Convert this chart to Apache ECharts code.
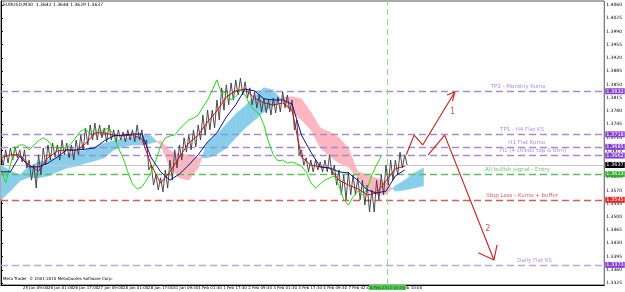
<!DOCTYPE html>
<html><head><meta charset="utf-8">
<script src="https://cdn.jsdelivr.net/npm/echarts@6/dist/echarts.min.js"></script>
<style>html,body{margin:0;padding:0;background:#fff}#c{width:625px;height:292px}</style>
</head><body><div id="c"></div>
<script>
// ---- data (M30 bars, x = bar index) ----
const priceStep = 6;   // bars per price / chikou sample
const lineStep = 12;   // bars per tenkan / kijun / kumo sample
const priceHigh = [1.3664,1.3677,1.3682,1.3685,1.3677,1.3677,1.3650,1.3637,1.3664,1.3682,1.3690,1.3695,1.3690,1.3703,1.3695,1.3690,1.3703,1.3716,1.3735,1.3743,1.3748,1.3743,1.3735,1.3743,1.3730,1.3730,1.3724,1.3730,1.3730,1.3743,1.3730,1.3703,1.3637,1.3611,1.3603,1.3624,1.3650,1.3677,1.3690,1.3709,1.3716,1.3730,1.3743,1.3769,1.3782,1.3782,1.3809,1.3841,1.3849,1.3854,1.3862,1.3867,1.3857,1.3841,1.3830,1.3822,1.3814,1.3809,1.3814,1.3817,1.3830,1.3822,1.3809,1.3756,1.3677,1.3656,1.3650,1.3650,1.3645,1.3650,1.3664,1.3637,1.3624,1.3611,1.3619,1.3611,1.3603,1.3597,1.3584,1.3571,1.3597,1.3611,1.3637,1.3650,1.3650,1.3671,1.3664];
const priceLow = [1.3637,1.3642,1.3650,1.3656,1.3645,1.3629,1.3597,1.3576,1.3611,1.3637,1.3650,1.3658,1.3650,1.3664,1.3656,1.3650,1.3664,1.3677,1.3690,1.3703,1.3703,1.3709,1.3698,1.3703,1.3698,1.3703,1.3698,1.3703,1.3698,1.3703,1.3690,1.3624,1.3584,1.3571,1.3566,1.3576,1.3597,1.3629,1.3650,1.3671,1.3677,1.3685,1.3703,1.3716,1.3730,1.3735,1.3756,1.3782,1.3796,1.3809,1.3822,1.3822,1.3814,1.3796,1.3788,1.3777,1.3775,1.3769,1.3775,1.3777,1.3788,1.3777,1.3730,1.3664,1.3637,1.3619,1.3619,1.3624,1.3619,1.3619,1.3611,1.3584,1.3558,1.3545,1.3558,1.3558,1.3545,1.3531,1.3513,1.3513,1.3545,1.3558,1.3584,1.3597,1.3611,1.3629,1.3637];
const chikou = [1.3624,1.3590,1.3637,1.3682,1.3690,1.3690,1.3677,1.3690,1.3701,1.3709,1.3701,1.3685,1.3682,1.3682,1.3682,1.3695,1.3711,1.3727,1.3732,1.3719,1.3730,1.3724,1.3730,1.3735,1.3716,1.3682,1.3656,1.3619,1.3587,1.3574,1.3579,1.3597,1.3619,1.3650,1.3687,1.3709,1.3714,1.3716,1.3732,1.3745,1.3756,1.3761,1.3769,1.3790,1.3809,1.3835,1.3862,1.3825,1.3830,1.3809,1.3817,1.3835,1.3822,1.3796,1.3782,1.3772,1.3743,1.3698,1.3664,1.3648,1.3650,1.3642,1.3645,1.3640,1.3634,1.3619,1.3590,1.3576,1.3587,1.3597,1.3603,1.3608,1.3582,1.3545,1.3531,1.3553,1.3568,1.3558,1.3574,1.3611,1.3637,1.3661];
const tenkan = [1.3656,1.3664,1.3664,1.3637,1.3621,1.3656,1.3674,1.3677,1.3674,1.3693,1.3722,1.3722,1.3716,1.3714,1.3716,1.3706,1.3637,1.3589,1.3619,1.3658,1.3695,1.3716,1.3751,1.3780,1.3817,1.3833,1.3838,1.3814,1.3801,1.3796,1.3801,1.3782,1.3658,1.3637,1.3632,1.3629,1.3597,1.3584,1.3574,1.3558,1.3563,1.3595,1.3627,1.3634];
const kijun = [1.3619,1.3619,1.3661,1.3632,1.3632,1.3642,1.3658,1.3677,1.3677,1.3679,1.3682,1.3701,1.3714,1.3716,1.3719,1.3719,1.3656,1.3619,1.3597,1.3613,1.3637,1.3664,1.3698,1.3722,1.3764,1.3796,1.3838,1.3833,1.3812,1.3809,1.3809,1.3798,1.3716,1.3671,1.3632,1.3629,1.3619,1.3616,1.3597,1.3571,1.3563,1.3568,1.3608,1.3624];
const spanA = [1.3637,1.3621,1.3611,1.3634,1.3645,1.3650,1.3658,1.3666,1.3671,1.3677,1.3685,1.3695,1.3701,1.3706,1.3711,1.3716,1.3714,1.3690,1.3629,1.3603,1.3597,1.3629,1.3698,1.3719,1.3745,1.3772,1.3793,1.3819,1.3841,1.3835,1.3804,1.3777,1.3756,1.3730,1.3682,1.3661,1.3642,1.3632,1.3603,1.3571,1.3558,1.3560,1.3582,1.3597,1.3616,1.3629];
const spanB = [1.3545,1.3568,1.3595,1.3605,1.3603,1.3608,1.3619,1.3629,1.3634,1.3642,1.3648,1.3656,1.3677,1.3685,1.3690,1.3690,1.3695,1.3701,1.3674,1.3666,1.3664,1.3656,1.3656,1.3666,1.3682,1.3709,1.3735,1.3756,1.3777,1.3793,1.3817,1.3817,1.3812,1.3777,1.3735,1.3724,1.3709,1.3682,1.3619,1.3611,1.3603,1.3590,1.3568,1.3571,1.3576,1.3582];
const timeTickBars = [0,28,60,92,124,156,188,220,252,284,316,348,380,412,444,476,508];
const timeTickLabels = ['24 Jan 2011','25 Jan 09:00','26 Jan 01:00','26 Jan 17:00','27 Jan 09:00','28 Jan 01:00','28 Jan 17:00','31 Jan 09:30','1 Feb 01:30','1 Feb 17:30','2 Feb 09:30','3 Feb 01:30','3 Feb 17:30','4 Feb 09:30','7 Feb 02:00','7 Feb 18:00','8 Feb 10:00'];
const priceTicks = [1.3325,1.3360,1.3395,1.3430,1.3465,1.3500,1.3535,1.3570,1.3605,1.3640,1.3675,1.3710,1.3745,1.3780,1.3815,1.3850,1.3885,1.3920,1.3955,1.3990,1.4025,1.4060];
const levelNames = ['TP2 - Monthly Kumo','TP1 - H4 Flat KS','H1 Flat Kumo','H1 (4 chikou top & btm)','All bullish signal - Entry','Stop Loss - Kumo + buffer','Daily Flat KS'];
const levelValues = [1.3832,1.3718,1.3685,1.3662,1.3613,1.3545,1.3373];
const levelTextBars = [661,666,672,680,660,666,682];
const bidPrice = 1.3637;
const vLineBar = 494;
const vLineLabel = '8 Feb 2011 03:00';
const arrow1 = [[518,1.3664],[528,1.3716],[539,1.3690],[580,1.3830]];
const arrow1Head = [[570,1.3822],[580,1.3830],[577,1.3806]];
const arrow2 = [[546,1.3664],[567,1.3716],[630,1.3386]];
const arrow2Head = [[610,1.3405],[630,1.3386],[634,1.3426]];
const arrowNumbers = [['1',577,1.3778],['2',622,1.3468]];
const titleText = 'EURUSD,M30  1.3642 1.3644 1.3629 1.3637';
const copyrightText = 'Meta Trader  \u00a9 2001-2010 MetaQuotes Software Corp.';

// ---- styles ----
const levelStyle = [
  {c:'#a58bd0', box:'#8a3fd0', t:'#9a6fd0'},
  {c:'#a58bd0', box:'#8a3fd0', t:'#9a6fd0'},
  {c:'#a58bd0', box:'#8a3fd0', t:'#9a6fd0'},
  {c:'#a58bd0', box:'#8a3fd0', t:'#9a6fd0'},
  {c:'#5cc05c', box:'#2fb02f', t:'#44b844'},
  {c:'#d06060', box:'#e02828', t:'#d03838'},
  {c:'#b9a8dc', box:'#8a3fd0', t:'#9a6fd0'}
];
const BLUE = '#87ceeb', PINK = '#ffb6c1';

const chart = echarts.init(document.getElementById('c'), null, {renderer:'canvas'});

const priceZig = [];
for (let k = 0; k < Math.min(priceHigh.length, priceLow.length); k++) {
  priceZig.push([k*priceStep, priceHigh[k]]);
  priceZig.push([k*priceStep + priceStep/2, priceLow[k]]);
}
const chikouData = chikou.map((v,k)=>[k*priceStep, v]);
const tenkanData = tenkan.map((v,k)=>[k*lineStep, v]);
const kijunData = kijun.map((v,k)=>[k*lineStep, v]);
const cloudData = spanA.map((a,k)=>[k*lineStep, a, spanB[k]]);

function cloudRender(params, api) {
  const i = params.dataIndex;
  if (i >= cloudData.length - 1) return null;
  const [x0,a0,b0] = cloudData[i];
  const [x1,a1,b1] = cloudData[i+1];
  const P = (x,y)=>api.coord([x,y]);
  const poly = (pts,col)=>({type:'polygon', shape:{points:pts}, style:{fill:col, stroke:col, lineWidth:0.6}});
  const d0 = a0-b0, d1 = a1-b1;
  const ch = [];
  if (d0*d1 < 0) {
    const t = d0/(d0-d1);
    const xm = x0 + t*(x1-x0), ym = a0 + t*(a1-a0);
    ch.push(poly([P(x0,a0),P(xm,ym),P(x0,b0)], d0>0?BLUE:PINK));
    ch.push(poly([P(xm,ym),P(x1,a1),P(x1,b1)], d1>0?BLUE:PINK));
  } else {
    ch.push(poly([P(x0,a0),P(x1,a1),P(x1,b1),P(x0,b0)], (d0+d1)>0?BLUE:PINK));
  }
  return {type:'group', children: ch};
}

const boxLabel = (txt, bg, fg) => ({show:true, position:'end', distance:1, formatter: txt, color:fg||'#fff',
    backgroundColor:bg, fontSize:5, padding:[1,1,0,1], fontFamily:'DejaVu Sans'});
const levelMarks = levelValues.map((v,i)=>({
  yAxis: v,
  lineStyle:{color:levelStyle[i].c, type:[7,4], width:1.3},
  label: boxLabel(v.toFixed(4), levelStyle[i].box)
}));
levelMarks.push({
  yAxis: bidPrice,
  lineStyle:{color:'#c8c8c8', type:'solid', width:1},
  label: boxLabel(bidPrice.toFixed(4), '#000')
});
levelMarks.push({
  xAxis: vLineBar,
  lineStyle:{color:'#90d890', type:[6,4], width:1},
  label:{show:true, position:'start', distance:0, formatter: vLineLabel, color:'#1a5a1a',
    backgroundColor:'#4cd04c', fontSize:4, padding:[1,1,0,1], fontFamily:'DejaVu Sans'}
});

const levelTexts = levelNames.map((n,i)=>({
  value:[levelTextBars[i], levelValues[i]],
  label:{show:true, formatter:n, position:'top', distance:1, color:levelStyle[i].t, fontSize:5.5, fontFamily:'DejaVu Sans'}
}));

const redLine = {color:'#cc2a2a', width:1.2};
const opt = {
  animation:false,
  grid:{left:1, right:15, top:1, bottom:7, show:true, borderColor:'#555', borderWidth:1, backgroundColor:'#fff'},
  xAxis:{type:'value', min:0, max:771,
    axisLine:{show:true, lineStyle:{color:'#000', width:1}}, splitLine:{show:false},
    axisTick:{show:true, length:1, customValues: timeTickBars, lineStyle:{color:'#000'}},
    axisLabel:{show:true, customValues: timeTickBars, align:'left', margin:1, fontSize:4, color:'#000', fontFamily:'DejaVu Sans',
      formatter:(v)=>{const i = timeTickBars.indexOf(Math.round(v)); return i>=0 ? timeTickLabels[i] : '';}}},
  yAxis:{type:'value', position:'right', min:1.33198, max:1.40706,
    axisLine:{show:true, lineStyle:{color:'#000', width:1}}, splitLine:{show:false},
    axisTick:{show:true, length:2, inside:false, customValues: priceTicks, lineStyle:{color:'#000'}},
    axisLabel:{show:true, customValues: priceTicks, margin:2, fontSize:4.5, color:'#000', fontFamily:'DejaVu Sans',
      formatter:(v)=>v.toFixed(4)}},
  graphic:[
    {type:'text', left:3, top:2, style:{text:titleText, fontSize:4.5, fill:'#000', fontFamily:'DejaVu Sans'}},
    {type:'text', left:3, top:277, style:{text:copyrightText, fontSize:4, fill:'#000', fontFamily:'DejaVu Sans'}}
  ],
  series:[
    {type:'custom', renderItem:cloudRender, data:cloudData, encode:{x:0, y:[1,2]}, clip:true, silent:true, z:1},
    {type:'line', data:priceZig, symbol:'none', lineStyle:{color:'#3a3a3a', width:0.9}, z:3,
      markLine:{silent:true, symbol:['none','none'], animation:false, precision:4, data:levelMarks, z:2}},
    {type:'line', data:chikouData, symbol:'none', lineStyle:{color:'#22dd11', width:1}, z:4},
    {type:'line', data:tenkanData, symbol:'none', lineStyle:{color:'#c81010', width:1}, z:5},
    {type:'line', data:kijunData, symbol:'none', lineStyle:{color:'#10108c', width:1}, z:5},
    {type:'line', data:arrow1, symbol:'none', lineStyle:redLine, z:6},
    {type:'line', data:arrow1Head, symbol:'none', lineStyle:redLine, z:6},
    {type:'line', data:arrow2, symbol:'none', lineStyle:redLine, z:6},
    {type:'line', data:arrow2Head, symbol:'none', lineStyle:redLine, z:6},
    {type:'scatter', data:levelTexts, symbolSize:1, itemStyle:{color:'rgba(0,0,0,0)'}, z:7},
    {type:'scatter', data:arrowNumbers.map(a=>({value:[a[1],a[2]], label:{show:true, formatter:a[0], position:'inside', color:'#cc2a2a', fontSize:8, fontFamily:'DejaVu Sans'}})), symbolSize:1, itemStyle:{color:'rgba(0,0,0,0)'}, z:7}
  ]
};
chart.setOption(opt);
</script></body></html>
